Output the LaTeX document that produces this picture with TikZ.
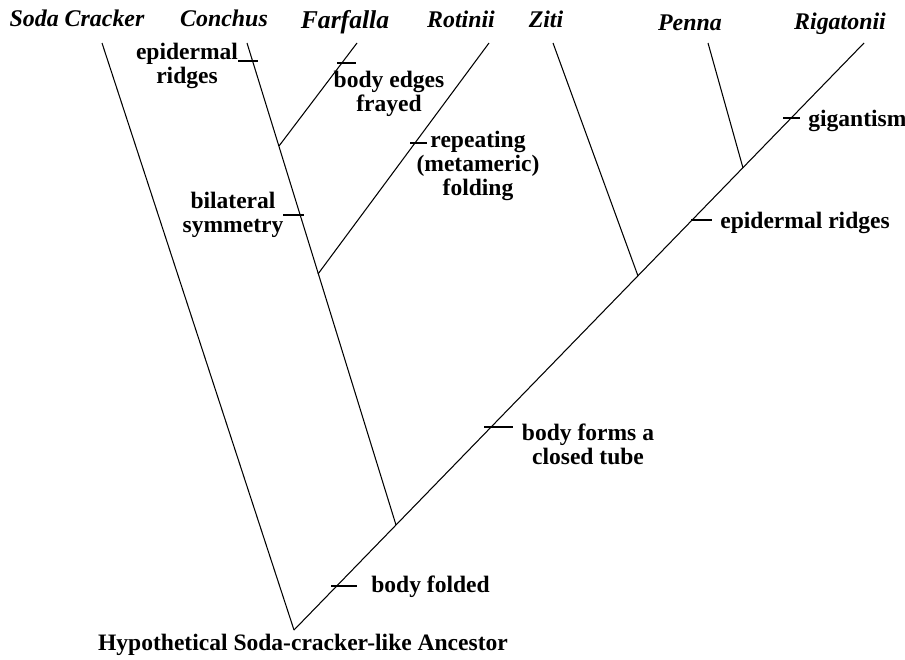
\documentclass[tikz,border=0pt]{standalone}
\usepackage{fontspec}
\setmainfont{Liberation Serif}
\usepackage{tikz}

\tikzset{
  taxon/.style={font=\fontsize{13.6}{15}\selectfont\bfseries\itshape, inner sep=0pt, anchor=base},
  trait/.style={font=\fontsize{13.4}{13.8}\selectfont\bfseries, align=center, inner sep=0pt},
  branch/.style={line width=0.6pt},
  tick/.style={line width=0.6pt}
}

\begin{document}
\begin{tikzpicture}[x=0.02cm, y=-0.02cm]
\useasboundingbox (0,0) rectangle (905,659);
\coordinate (root) at (294,630);
\coordinate (sodaT) at (102,43);
\coordinate (rigT) at (864,43);
\coordinate (conJ) at (396,525);
\coordinate (conT) at (247,43);
\coordinate (farJ) at (279,146);
\coordinate (farT) at (357,43);
\coordinate (rotJ) at (318,274);
\coordinate (rotT) at (489,43);
\coordinate (zitJ) at (638,276);
\coordinate (zitT) at (553,43);
\coordinate (penJ) at (743,168);
\coordinate (penT) at (708,43);

\node[taxon] (soda) at (77,27) {Soda Cracker};
\node[taxon] (conchus) at (224,27) {Conchus};
\node[taxon, font=\fontsize{14.6}{16}\selectfont\bfseries\itshape] (farfalla) at (345,29) {Farfalla};
\node[taxon] (rotinii) at (461,28) {Rotinii};
\node[taxon] (ziti) at (546,28) {Ziti};
\node[taxon] (penna) at (690,31) {Penna};
\node[taxon] (rigatonii) at (840,30) {Rigatonii};

\draw[branch] (root)--(sodaT);
\draw[branch] (root)--(rigT);
\draw[branch] (conJ)--(conT);
\draw[branch] (farJ)--(farT);
\draw[branch] (rotJ)--(rotT);
\draw[branch] (zitJ)--(zitT);
\draw[branch] (penJ)--(penT);

\draw[tick] (238,61)--(258,61);
\draw[tick] (337,63)--(356,63);
\draw[tick] (410,143)--(427,143);
\draw[tick] (283,215)--(304,215);
\draw[tick] (783,118)--(800,118);
\draw[tick] (691,220)--(712,220);
\draw[tick] (484,427)--(513,427);
\draw[tick] (331,586)--(357,586);

\node[trait] (ridgesA) at (187,66) {epidermal\\ridges};
\node[trait] (frayed) at (389,94) {body edges\\frayed};
\node[trait] (repeat) at (478,166) {repeating\\(metameric)\\folding};
\node[trait] (bilateral) at (233,215) {bilateral\\symmetry};
\node[trait, anchor=west] (giant) at (808,121) {gigantism};
\node[trait, anchor=west] (ridgesB) at (720,223) {epidermal ridges};
\node[trait] (tube) at (588,444) {body forms a\\closed tube};
\node[trait, anchor=west] (folded) at (371,587) {body folded};
\node[trait] (ancestor) at (303,645) {Hypothetical Soda-cracker-like Ancestor};
\end{tikzpicture}
\end{document}
